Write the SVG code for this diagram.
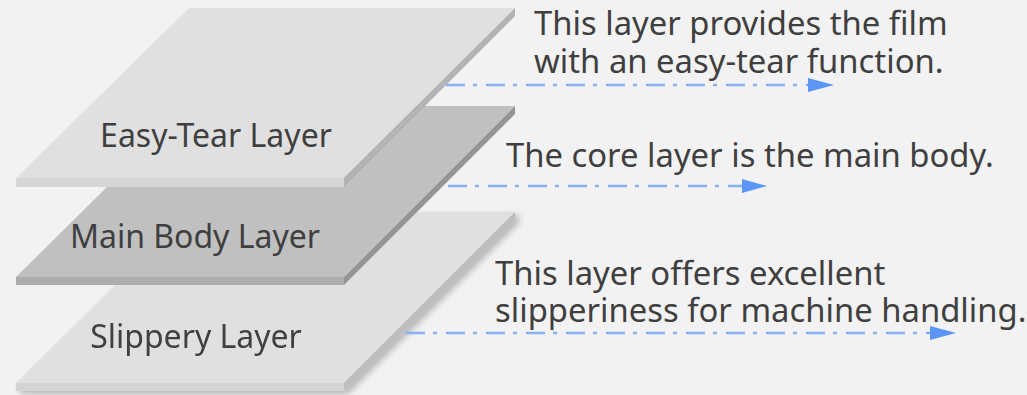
<svg xmlns="http://www.w3.org/2000/svg" width="1027" height="395" viewBox="0 0 1027 395">
<defs>
<style>
.lbl{font-family:"Noto Sans","Open Sans","Liberation Sans",sans-serif;font-size:32px;fill:#3f3f3f}
.desc{font-family:"Noto Sans","Open Sans","Liberation Sans",sans-serif;font-size:32.8px;fill:#3f3f3f}
.conn{fill:none;stroke:#86b1f4;stroke-width:2.5;stroke-dasharray:19 8 4 9}
.head{fill:#5b95f5}
</style>
<filter id="sh" x="-10%" y="-10%" width="130%" height="130%">
<feGaussianBlur in="SourceAlpha" stdDeviation="3"/>
<feOffset dx="4" dy="3" result="b"/>
<feComponentTransfer><feFuncA type="linear" slope="0.25"/></feComponentTransfer>
<feMerge><feMergeNode/><feMergeNode in="SourceGraphic"/></feMerge>
</filter>
</defs>
<rect width="1027" height="395" fill="#f2f2f2"/>
<g id="slippery-layer" filter="url(#sh)">
<polygon points="189,212 515,212 344,383 16,383" fill="#e0e0e0"/>
<polygon points="16,383 344,383 344,391 16,391" fill="#d4d4d4"/>
<polygon points="344,383 515,212 515,220 344,391" fill="#bdbdbd"/>
<text class="lbl" x="196" y="348" text-anchor="middle">Slippery Layer</text>
</g>
<g id="main-body-layer">
<polygon points="189,106 515,106 344,277 16,277" fill="#c0c0c0"/>
<polygon points="16,277 344,277 344,285 16,285" fill="#adadad"/>
<polygon points="344,277 515,106 515,114 344,285" fill="#959595"/>
<text class="lbl" x="195" y="248" text-anchor="middle">Main Body Layer</text>
</g>
<g id="easy-tear-layer">
<polygon points="189,8 515,8 344,178 16,178" fill="#e0e0e0"/>
<polygon points="16,178 344,178 344,187 16,187" fill="#d6d6d6"/>
<polygon points="344,178 515,8 515,16 344,187" fill="#b3b3b3"/>
<text class="lbl" x="216" y="147" text-anchor="middle">Easy-Tear Layer</text>
</g>
<g id="connectors">
<line class="conn" x1="446" y1="85" x2="810" y2="85"/>
<polygon class="head" points="808,78 834,85 808,92"/>
<line class="conn" x1="448" y1="186" x2="744" y2="186"/>
<polygon class="head" points="742,179 767,186 742,193"/>
<line class="conn" x1="406" y1="333" x2="932" y2="333"/>
<polygon class="head" points="930,326 956,333 930,340"/>
</g>
<g id="desc-easy-tear">
<text class="desc" x="534" y="35">This layer provides the film<tspan x="534" y="73">with an easy-tear function.</tspan></text>
</g>
<g id="desc-main-body">
<text class="desc" x="506" y="167">The core layer is the main body.</text>
</g>
<g id="desc-slippery">
<text class="desc" x="495" y="285">This layer offers excellent<tspan x="495" y="322">slipperiness for machine handling.</tspan></text>
</g>
</svg>
